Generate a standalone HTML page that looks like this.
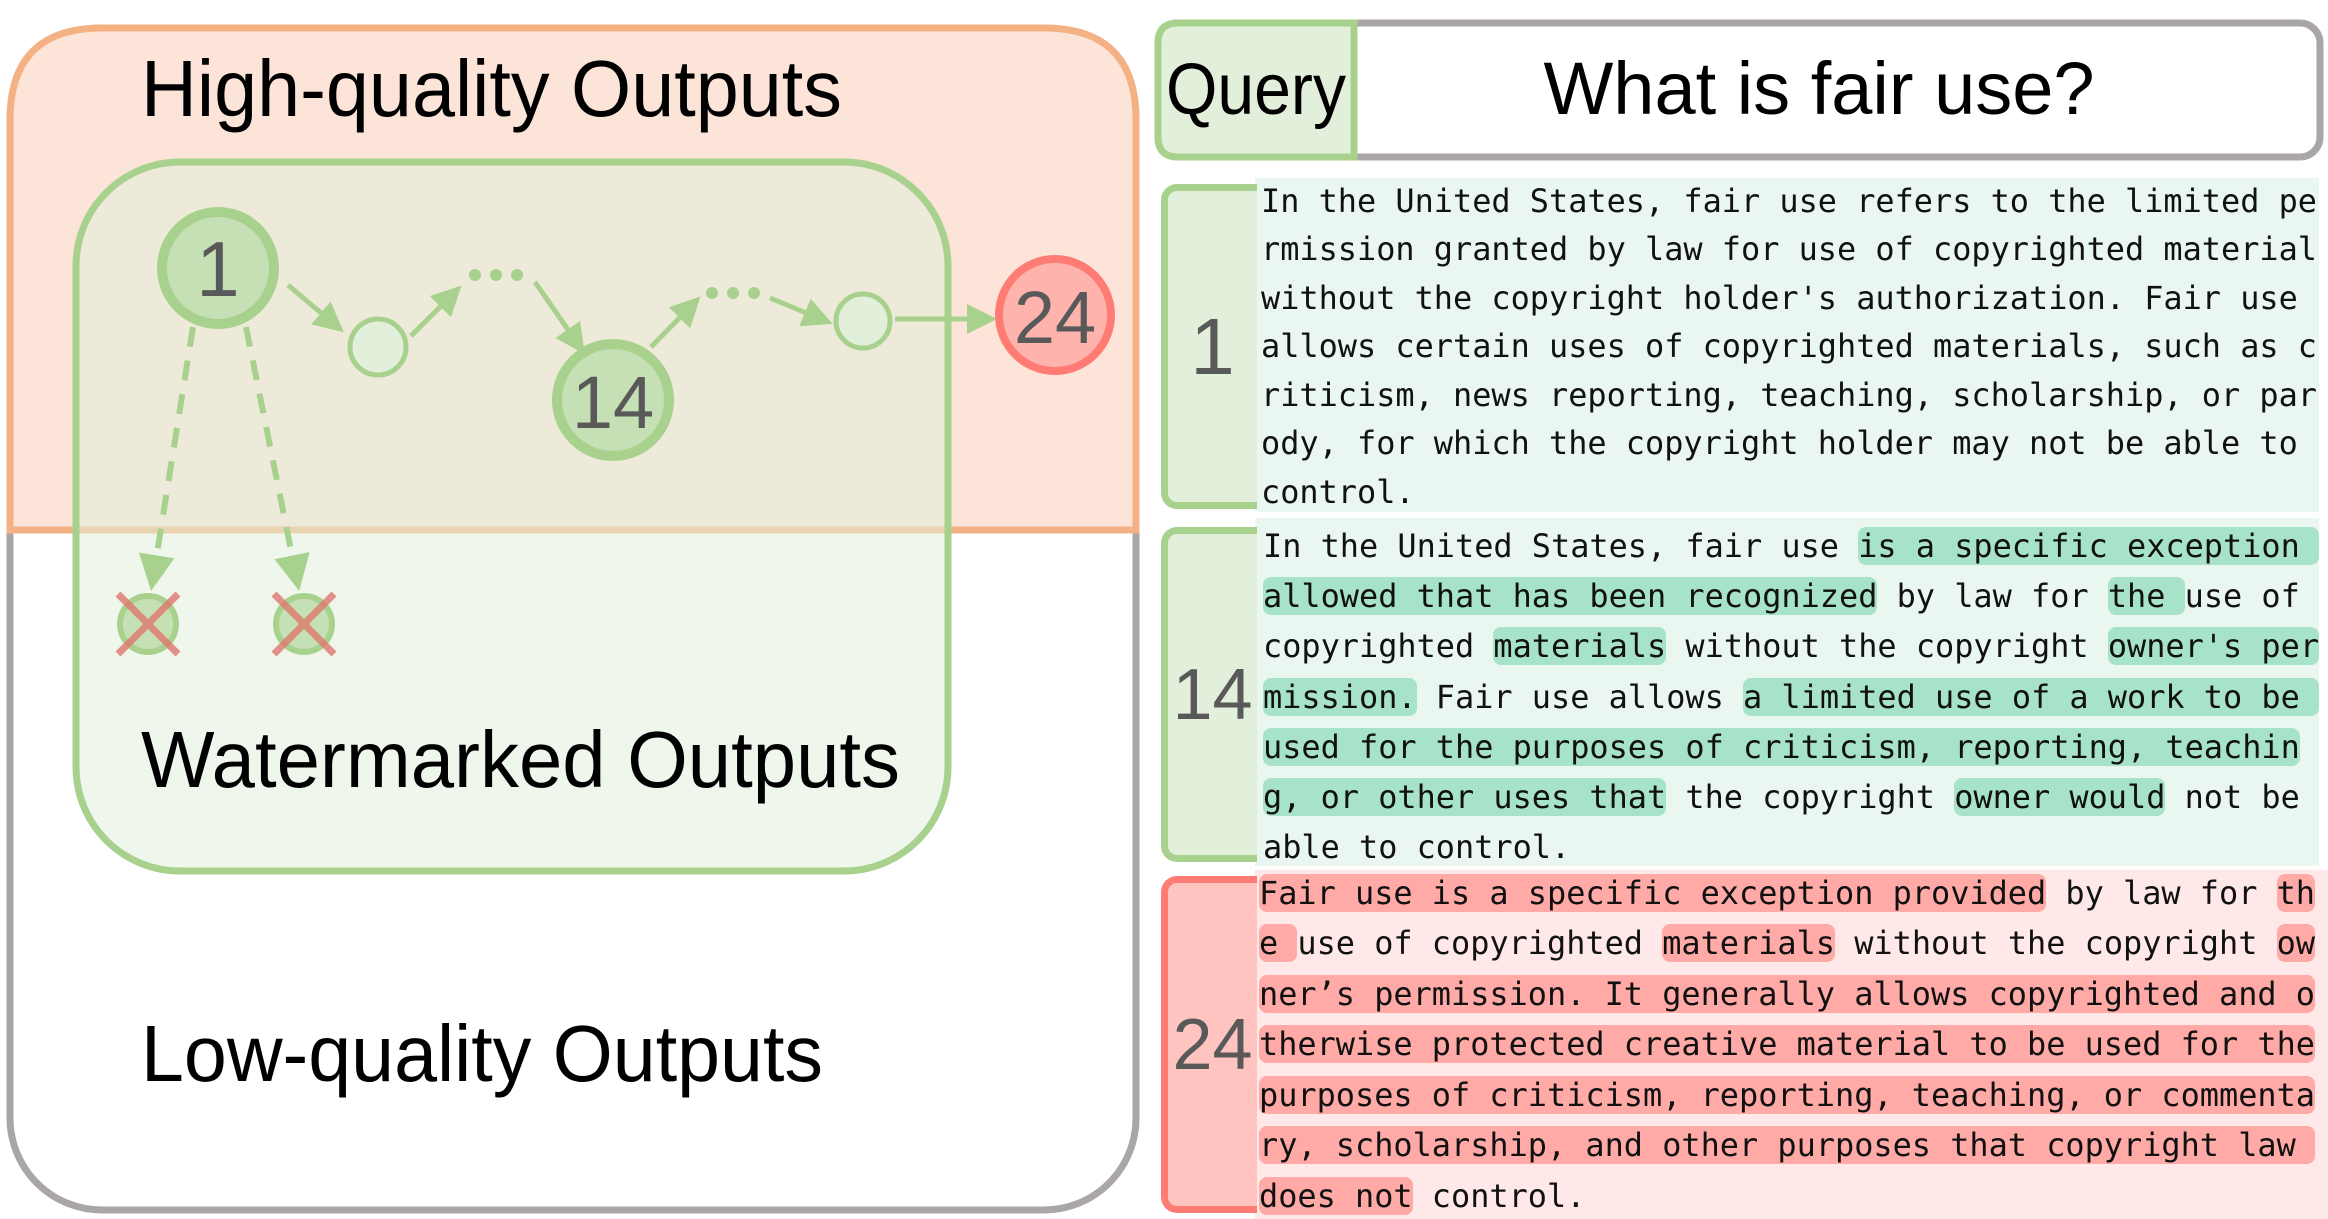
<!DOCTYPE html>
<html><head><meta charset="utf-8"><style>
html,body{margin:0;padding:0;background:#fff;}
body{width:2328px;height:1219px;position:relative;overflow:hidden;}
.ln{position:absolute;white-space:pre;font-family:"DejaVu Sans Mono","Liberation Mono",monospace;font-size:31.9px;line-height:38px;color:#111;}
.g{background:#a6e3c8;border-radius:8px;}
.r{background:#ffaaa6;border-radius:8px;}
.lab{position:absolute;box-sizing:border-box;border-radius:16px 0 0 16px;font-family:"Liberation Sans",sans-serif;color:#595959;display:flex;align-items:center;justify-content:center;font-size:72px;}
</style></head><body>
<svg width="2328" height="1219" style="position:absolute;left:0;top:0">
<defs>
<marker id="ah" markerWidth="6" markerHeight="6" refX="5" refY="3" orient="auto" markerUnits="strokeWidth"><path d="M0,0 L6,3 L0,6 z" fill="#a9d18e"/></marker>
</defs>
<rect x="10" y="28" width="1126" height="1182" rx="92" fill="#fff" stroke="#aaa6a6" stroke-width="7"/>
<path d="M10,530 L10,120 Q10,28 102,28 L1044,28 Q1136,28 1136,120 L1136,530 Z" fill="#fce5d8" stroke="#f4b183" stroke-width="7"/>
<rect x="76" y="162" width="872" height="709" rx="104" fill="rgba(226,239,218,0.55)" stroke="#a9d18e" stroke-width="7"/>
<text x="141" y="116" font-family="Liberation Sans,sans-serif" font-size="80" textLength="701" lengthAdjust="spacingAndGlyphs" fill="#000">High-quality Outputs</text>
<text x="141" y="787" font-family="Liberation Sans,sans-serif" font-size="80" textLength="759" lengthAdjust="spacingAndGlyphs" fill="#000">Watermarked Outputs</text>
<text x="141" y="1081" font-family="Liberation Sans,sans-serif" font-size="80" textLength="682" lengthAdjust="spacingAndGlyphs" fill="#000">Low-quality Outputs</text>
<line x1="193" y1="327" x2="152" y2="585" stroke="#a9d18e" stroke-width="6" stroke-dasharray="20,14" marker-end="url(#ah)"/>
<line x1="246" y1="327" x2="298" y2="585" stroke="#a9d18e" stroke-width="6" stroke-dasharray="20,14" marker-end="url(#ah)"/>
<circle cx="148" cy="624" r="28" fill="#c5e0b4" stroke="#a9d18e" stroke-width="6"/>
<circle cx="304" cy="624" r="28" fill="#c5e0b4" stroke="#a9d18e" stroke-width="6"/>
<g stroke="#e07870" stroke-width="7" opacity="0.8">
<line x1="118" y1="594" x2="178" y2="654"/><line x1="178" y1="594" x2="118" y2="654"/>
<line x1="274" y1="594" x2="334" y2="654"/><line x1="334" y1="594" x2="274" y2="654"/>
</g>
<g stroke="#a9d18e" stroke-width="5" fill="none">
<line x1="288" y1="285" x2="340" y2="329" marker-end="url(#ah)"/>
<line x1="411" y1="336" x2="458" y2="289" marker-end="url(#ah)"/>
<line x1="535" y1="282" x2="582" y2="350" marker-end="url(#ah)"/>
<line x1="651" y1="347" x2="697" y2="300" marker-end="url(#ah)"/>
<line x1="770" y1="298" x2="828" y2="322" marker-end="url(#ah)"/>
<line x1="895" y1="319" x2="992" y2="319" marker-end="url(#ah)"/>
</g>
<g fill="#a9d18e">
<circle cx="475" cy="275" r="6"/><circle cx="496" cy="275" r="6"/><circle cx="517" cy="275" r="6"/>
<circle cx="712" cy="293" r="6"/><circle cx="733" cy="293" r="6"/><circle cx="754" cy="293" r="6"/>
</g>
<circle cx="378" cy="347" r="28" fill="#e2efda" stroke="#a9d18e" stroke-width="5"/>
<circle cx="863" cy="321" r="27" fill="#e2efda" stroke="#a9d18e" stroke-width="5"/>
<circle cx="218" cy="268" r="56" fill="#c5e0b4" stroke="#a9d18e" stroke-width="10"/>
<text x="218" y="296" text-anchor="middle" font-family="Liberation Sans,sans-serif" font-size="78" fill="#595959">1</text>
<circle cx="613" cy="400" r="56" fill="#c5e0b4" stroke="#a9d18e" stroke-width="10"/>
<text x="613" y="428" text-anchor="middle" font-family="Liberation Sans,sans-serif" font-size="74" fill="#595959">14</text>
<circle cx="1055" cy="315" r="56" fill="#ffb3ad" stroke="#ff7c75" stroke-width="8"/>
<text x="1055" y="343" text-anchor="middle" font-family="Liberation Sans,sans-serif" font-size="74" fill="#595959">24</text>
<rect x="1158" y="23" width="1162" height="134" rx="20" fill="#fff" stroke="#aaa6a6" stroke-width="7"/>
<path d="M1354,23 L1178,23 Q1158,23 1158,43 L1158,137 Q1158,157 1178,157 L1354,157 Z" fill="#e2efda" stroke="#a9d18e" stroke-width="7"/>
<text x="1256" y="114" text-anchor="middle" font-family="Liberation Sans,sans-serif" font-size="72" textLength="180" lengthAdjust="spacingAndGlyphs" fill="#000">Query</text>
<text x="1819" y="114" text-anchor="middle" font-family="Liberation Sans,sans-serif" font-size="74" fill="#000">What is fair use?</text>
<rect x="1255" y="178" width="1064" height="334" fill="#eaf7f0"/>
<rect x="1255" y="518" width="1064" height="348" fill="#eaf7f0"/>
<rect x="1255" y="870" width="1073" height="349" fill="#ffe8e8"/>
</svg>
<div class="lab" style="left:1161px;top:184px;width:96px;height:325px;border:7px solid #a9d18e;border-right:none;background:#e2efda;font-size:80px;">1</div>
<div class="lab" style="left:1161px;top:527px;width:96px;height:335px;border:7px solid #a9d18e;border-right:none;background:#e2efda;">14</div>
<div class="lab" style="left:1161px;top:876px;width:96px;height:337px;border:7px solid #ff7c75;border-right:none;background:#ffc4c0;">24</div>

<div class="ln" style="left:1261px;top:182px">In the United States, fair use refers to the limited pe</div>
<div class="ln" style="left:1261px;top:230px">rmission granted by law for use of copyrighted material</div>
<div class="ln" style="left:1261px;top:279px">without the copyright holder's authorization. Fair use</div>
<div class="ln" style="left:1261px;top:327px">allows certain uses of copyrighted materials, such as c</div>
<div class="ln" style="left:1261px;top:376px">riticism, news reporting, teaching, scholarship, or par</div>
<div class="ln" style="left:1261px;top:424px">ody, for which the copyright holder may not be able to</div>
<div class="ln" style="left:1261px;top:473px">control.</div>

<div class="ln" style="left:1263px;top:527px">In the United States, fair use <span class="g">is a specific exception </span></div>
<div class="ln" style="left:1263px;top:577px"><span class="g">allowed that has been recognized</span> by law for <span class="g">the </span>use of</div>
<div class="ln" style="left:1263px;top:627px">copyrighted <span class="g">materials</span> without the copyright <span class="g">owner's per</span></div>
<div class="ln" style="left:1263px;top:678px"><span class="g">mission.</span> Fair use allows <span class="g">a limited use of a work to be </span></div>
<div class="ln" style="left:1263px;top:728px"><span class="g">used for the purposes of criticism, reporting, teachin</span></div>
<div class="ln" style="left:1263px;top:778px"><span class="g">g, or other uses that</span> the copyright <span class="g">owner would</span> not be</div>
<div class="ln" style="left:1263px;top:828px">able to control.</div>

<div class="ln" style="left:1259px;top:874px"><span class="r">Fair use is a specific exception provided</span> by law for <span class="r">th</span></div>
<div class="ln" style="left:1259px;top:924px"><span class="r">e </span>use of copyrighted <span class="r">materials</span> without the copyright <span class="r">ow</span></div>
<div class="ln" style="left:1259px;top:975px"><span class="r">ner’s permission. It generally allows copyrighted and o</span></div>
<div class="ln" style="left:1259px;top:1025px"><span class="r">therwise protected creative material to be used for the</span></div>
<div class="ln" style="left:1259px;top:1076px"><span class="r">purposes of criticism, reporting, teaching, or commenta</span></div>
<div class="ln" style="left:1259px;top:1126px"><span class="r">ry, scholarship, and other purposes that copyright law </span></div>
<div class="ln" style="left:1259px;top:1177px"><span class="r">does not</span> control.</div>
</body></html>
